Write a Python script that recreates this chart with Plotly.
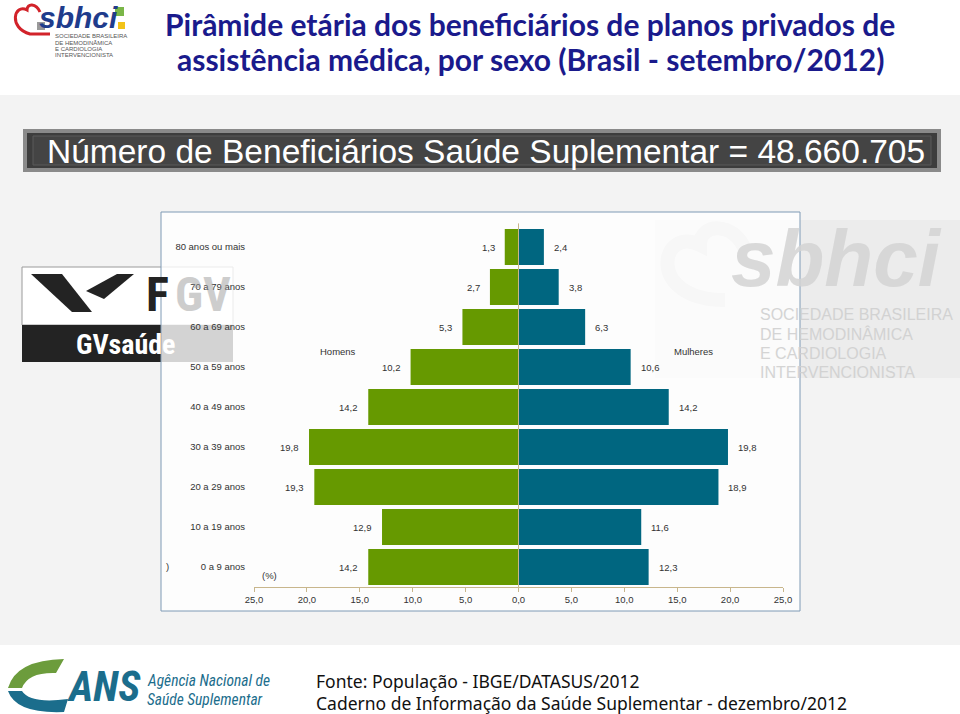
import plotly.graph_objects as go

# ---------------- data ----------------
age_groups = ["0 a 9 anos", "10 a 19 anos", "20 a 29 anos", "30 a 39 anos",
              "40 a 49 anos", "50 a 59 anos", "60 a 69 anos", "70 a 79 anos",
              "80 anos ou mais"]
homens = [14.2, 12.9, 19.3, 19.8, 14.2, 10.2, 5.3, 2.7, 1.3]
mulheres = [12.3, 11.6, 18.9, 19.8, 14.2, 10.6, 6.3, 3.8, 2.4]
tick_values = [-25, -20, -15, -10, -5, 0, 5, 10, 15, 20, 25]
tick_labels = ["25,0", "20,0", "15,0", "10,0", "5,0", "0,0", "5,0", "10,0", "15,0", "20,0", "25,0"]

title_lines = ["Pirâmide etária dos beneficiários de planos privados de",
               "assistência médica, por sexo (Brasil - setembro/2012)"]
banner_text = "Número de Beneficiários Saúde Suplementar = 48.660.705"
footer_lines = ["Fonte: População - IBGE/DATASUS/2012",
                "Caderno de Informação da Saúde Suplementar - dezembro/2012"]

W, H = 960, 714
GREEN = "#669900"
BLUE = "#006680"
TAN = "#c8b68c"
TXT = "#333333"


def px(x):
    return x / W


def py(y):
    return 1 - y / H


def fmt(v):
    return f"{v:.1f}".replace(".", ",")


def path(points, close=True):
    s = "M " + " L ".join(f"{px(x):.5f},{py(y):.5f}" for x, y in points)
    return s + (" Z" if close else "")


fig = go.Figure()
fig.add_trace(go.Bar(y=age_groups, x=[-v for v in homens], orientation="h",
                     marker=dict(color=GREEN, line=dict(width=0)), name="Homens",
                     showlegend=False))
fig.add_trace(go.Bar(y=age_groups, x=mulheres, orientation="h",
                     marker=dict(color=BLUE, line=dict(width=0)), name="Mulheres",
                     showlegend=False))

shapes = []
# slide background band
shapes.append(dict(type="rect", xref="paper", yref="paper", x0=0, x1=1, y0=py(645), y1=py(95),
                   fillcolor="#f3f3f3", line=dict(width=0), layer="below"))
# banner
shapes.append(dict(type="rect", xref="paper", yref="paper", x0=px(23), x1=px(941), y0=py(172), y1=py(129),
                   fillcolor="#8a8a8a", line=dict(width=0), layer="below"))
shapes.append(dict(type="rect", xref="paper", yref="paper", x0=px(27), x1=px(937), y0=py(168), y1=py(133),
                   fillcolor="#3d3d3d", line=dict(width=0), layer="below"))
shapes.append(dict(type="rect", xref="paper", yref="paper", x0=px(33), x1=px(931), y0=py(165), y1=py(136),
                   fillcolor="#444444", line=dict(color="#5a5a5a", width=1), layer="below"))

# FGV logo (left)
shapes.append(dict(type="rect", xref="paper", yref="paper", x0=px(22), x1=px(233), y0=py(325), y1=py(267),
                   fillcolor="white", line=dict(color="#9a9a9a", width=1), layer="below"))
shapes.append(dict(type="rect", xref="paper", yref="paper", x0=px(22), x1=px(233), y0=py(362), y1=py(325),
                   fillcolor="#232323", line=dict(width=0), layer="below"))
shapes.append(dict(type="path", xref="paper", yref="paper",
                   path=path([(31, 274), (62, 274), (92, 312), (72, 312)]),
                   fillcolor="#232323", line=dict(width=0), layer="below"))
shapes.append(dict(type="path", xref="paper", yref="paper",
                   path=path([(86, 291), (117, 274), (134, 274), (104, 299)]),
                   fillcolor="#232323", line=dict(width=0), layer="below"))

# sbhci watermark (right)
shapes.append(dict(type="rect", xref="paper", yref="paper", x0=px(655), x1=px(960), y0=py(378), y1=py(220),
                   fillcolor="#ececec", line=dict(width=0), layer="below"))
shapes.append(dict(type="path", xref="paper", yref="paper",
                   path="M {},{} C {},{} {},{} {},{} C {},{} {},{} {},{}".format(
                       px(745), py(250), px(735), py(222), px(700), py(222), px(700), py(245),
                       px(660), py(225), px(645), py(300), px(725), py(300)),
                   line=dict(color="#d4d4d4", width=14), layer="below"))

# chart frame (semi transparent white)
shapes.append(dict(type="rect", xref="paper", yref="paper", x0=px(161), x1=px(800), y0=py(611), y1=py(212),
                   fillcolor="rgba(255,255,255,0.8)", line=dict(color="#7f9ab5", width=1), layer="below"))

# zero line
shapes.append(dict(type="line", xref="x", yref="y domain", x0=0, x1=0, y0=0, y1=1.01,
                   line=dict(color=TAN, width=1), layer="above"))

# small sbhci logo (top left)
shapes.append(dict(type="path", xref="paper", yref="paper",
                   path="M {},{} C {},{} {},{} {},{} C {},{} {},{} {},{} L {},{}".format(
                       px(40), py(12), px(36), py(3), px(27), py(3), px(27), py(10),
                       px(14), py(3), px(8), py(28), px(30), py(34), px(50), py(34)),
                   line=dict(color="#d2232a", width=3), layer="below"))
shapes.append(dict(type="rect", xref="paper", yref="paper", x0=px(37), x1=px(45), y0=py(30), y1=py(22),
                   fillcolor="#9a9a9a", line=dict(width=0), layer="below"))
shapes.append(dict(type="rect", xref="paper", yref="paper", x0=px(115), x1=px(124), y0=py(16), y1=py(7),
                   fillcolor="#7ab648", line=dict(width=0), layer="below"))
shapes.append(dict(type="rect", xref="paper", yref="paper", x0=px(118), x1=px(125), y0=py(29), y1=py(22),
                   fillcolor="#f2c318", line=dict(width=0), layer="below"))

# ANS logo swoosh
shapes.append(dict(type="path", xref="paper", yref="paper",
                   path="M {},{} Q {},{} {},{} L {},{} Q {},{} {},{} Z".format(
                       px(8), py(688), px(16), py(660), px(64), py(659),
                       px(56), py(673), px(28), py(672), px(22), py(688)),
                   fillcolor="#6c9c3c", line=dict(width=0), layer="below"))
shapes.append(dict(type="path", xref="paper", yref="paper",
                   path="M {},{} Q {},{} {},{} L {},{} Q {},{} {},{} Z".format(
                       px(8), py(691), px(16), py(714), px(64), py(712),
                       px(68), py(699), px(30), py(704), px(22), py(691)),
                   fillcolor="#1b6d8c", line=dict(width=0), layer="below"))

ann = []


def text(x, y, s, size, color, family="Liberation Sans, Arial", xanchor="center", **kw):
    ann.append(dict(x=px(x), y=py(y), xref="paper", yref="paper", text=s, showarrow=False,
                    font=dict(size=size, color=color, family=family), xanchor=xanchor,
                    yanchor="middle", **kw))


# titles
TFONT = "Lato, Open Sans, sans-serif"
text(530, 24, f"<b>{title_lines[0]}</b>", 30, "#1a1a8c", TFONT)
text(530, 59, f"<b>{title_lines[1]}</b>", 30, "#1a1a8c", TFONT)
text(486, 151, banner_text, 33.5, "white")

# footer
FFONT = "Noto Sans, Open Sans, sans-serif"
text(314, 681, footer_lines[0], 17.5, "#111111", FFONT, xanchor="left")
text(314, 703, footer_lines[1], 17.5, "#111111", FFONT, xanchor="left")

# small sbhci logo text
text(78, 17, "<b><i>sbhci</i></b>", 30, "#1f3c8c", "Liberation Sans, Arial")
for i, s in enumerate(["SOCIEDADE BRASILEIRA", "DE HEMODINÂMICA", "E CARDIOLOGIA", "INTERVENCIONISTA"]):
    text(53, 36 + i * 6.5, s, 6, "#555555", xanchor="left")

# FGV logo text
LFONT = "Roboto Condensed, Liberation Sans Narrow, Roboto, Arial"
text(157, 294, "<b>F</b>", 48, "#232323", LFONT)
text(203, 294, "<b>GV</b>", 48, "#9c9c9c", LFONT, opacity=0.5)
text(126, 344, "<b>GVsaúde</b>", 28, "white", LFONT)

# sbhci watermark text
text(836, 258, "<b><i>sbhci</i></b>", 80, "#d4d4d4", "Liberation Sans, Arial", opacity=0.85)
for i, s in enumerate(["SOCIEDADE BRASILEIRA", "DE HEMODINÂMICA", "E CARDIOLOGIA", "INTERVENCIONISTA"]):
    text(758, 314 + i * 19.5, s, 16, "#d0d0d0", xanchor="left", opacity=0.9)

# ANS text
text(104, 686, "<b><i>ANS</i></b>", 42, "#1b6d8c", LFONT)
text(145, 681, "<i>Agência Nacional de</i>", 15.5, "#1b6d8c", LFONT, xanchor="left")
text(145, 700, "<i>Saúde Suplementar</i>", 15.5, "#1b6d8c", LFONT, xanchor="left")

# chart inner texts
text(338, 351, "Homens", 9.5, TXT)
text(693, 351, "Mulheres", 9.5, TXT)
text(269, 575, "(%)", 9.5, TXT)
text(167, 566, ")", 9.5, TXT)

# value labels
for cat, v in zip(age_groups, homens):
    ann.append(dict(x=-v, y=cat, xref="x", yref="y", text=fmt(v), showarrow=False,
                    xanchor="right", yanchor="middle", xshift=-8,
                    font=dict(size=9.5, color=TXT, family="Liberation Sans, Arial")))
for cat, v in zip(age_groups, mulheres):
    ann.append(dict(x=v, y=cat, xref="x", yref="y", text=fmt(v), showarrow=False,
                    xanchor="left", yanchor="middle", xshift=8,
                    font=dict(size=9.5, color=TXT, family="Liberation Sans, Arial")))

fig.update_layout(
    width=W, height=H, autosize=False,
    margin=dict(l=0, r=0, t=0, b=0, pad=0, autoexpand=False),
    paper_bgcolor="white", plot_bgcolor="rgba(0,0,0,0)",
    barmode="overlay", bargap=0.1,
    shapes=shapes, annotations=ann,
    showlegend=False,
    xaxis=dict(domain=[px(254), px(783)], range=[-25, 25], tickvals=tick_values, ticktext=tick_labels,
               automargin=False,
               showgrid=False, zeroline=False, showline=True, linecolor=TAN, linewidth=1,
               ticks="outside", ticklen=4, tickcolor=TAN, tickwidth=1,
               tickfont=dict(size=9.5, color=TXT, family="Liberation Sans, Arial"), fixedrange=True),
    yaxis=dict(domain=[py(587), py(227)], type="category", categoryorder="array", categoryarray=age_groups,
               automargin=False,
               range=[-0.5, 8.5], showgrid=False, zeroline=False, showline=False,
               ticks="outside", ticklen=6, tickcolor="rgba(0,0,0,0)",
               tickfont=dict(size=9.5, color=TXT, family="Liberation Sans, Arial"), fixedrange=True),
)

fig.write_html("out.html", config={"displayModeBar": False, "responsive": False},
               post_script="document.body.style.margin='0';document.body.style.overflow='hidden';")
